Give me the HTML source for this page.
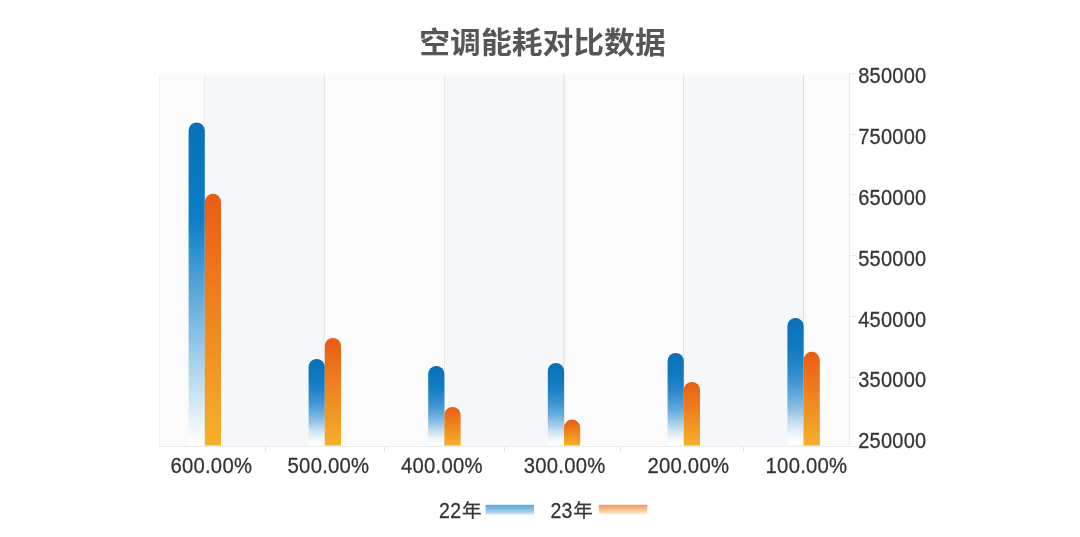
<!DOCTYPE html>
<html lang="zh-CN">
<head>
<meta charset="utf-8">
<title>空调能耗对比数据</title>
<style>
html,body{margin:0;padding:0;background:#fff;}
body{width:1080px;height:537px;overflow:hidden;position:relative;font-family:"Liberation Sans","Noto Sans CJK SC",sans-serif;color:#333;}
#chart{position:absolute;left:0;top:0;width:1080px;height:537px;}
.t{position:absolute;white-space:nowrap;line-height:1;}
.title{left:0;width:1085px;top:28.1px;text-align:center;font-size:30.8px;transform:scaleY(0.95);transform-origin:50% 50%;font-weight:bold;color:#565656;letter-spacing:0px;}
.yl{left:858.2px;font-size:20px;height:20px;letter-spacing:0.25px;transform:scaleY(1.08);transform-origin:0 50%;-webkit-text-stroke:0.25px #333;}
.xl{font-size:20.3px;letter-spacing:0.25px;width:120px;text-align:center;top:455.4px;transform:scaleY(1.08);transform-origin:50% 50%;-webkit-text-stroke:0.25px #333;}
.lg{font-size:19.5px;top:500.2px;}
.lg span{display:inline-block;}
.lg .d{position:relative;top:1.7px;letter-spacing:0.3px;-webkit-text-stroke:0.25px #333;transform:scaleY(1.125);transform-origin:50% 86%;}
.lg .c{position:relative;top:0.7px;left:0.6px;-webkit-text-stroke:0.3px #333;transform:scaleY(0.955);transform-origin:50% 50%;}
</style>
</head>
<body>
<svg id="chart" width="1080" height="537" viewBox="0 0 1080 537">
<defs>
<linearGradient id="gb" x1="0" y1="0" x2="0" y2="1">
<stop offset="0" stop-color="#0a6fb9"/>
<stop offset="0.12" stop-color="#0976bf"/>
<stop offset="0.30" stop-color="#0c7ec8"/>
<stop offset="0.99" stop-color="#ffffff"/>
</linearGradient>
<linearGradient id="gb2" x1="0" y1="0" x2="0" y2="1">
<stop offset="0" stop-color="#0b70b8"/>
<stop offset="0.22" stop-color="#0e7abf"/>
<stop offset="0.35" stop-color="#1f83c8"/>
<stop offset="0.48" stop-color="#3d92d0"/>
<stop offset="0.60" stop-color="#5ea9da"/>
<stop offset="0.70" stop-color="#8abde3"/>
<stop offset="0.81" stop-color="#c2ddf0"/>
<stop offset="0.91" stop-color="#edf5fb"/>
<stop offset="0.97" stop-color="#ffffff"/>
</linearGradient>
<linearGradient id="go" x1="0" y1="0" x2="0" y2="1">
<stop offset="0" stop-color="#ea5c14"/>
<stop offset="1" stop-color="#f6b02a"/>
</linearGradient>
<linearGradient id="lb" x1="0" y1="0" x2="0" y2="1">
<stop offset="0" stop-color="#5c9fcd"/>
<stop offset="0.15" stop-color="#6cb1de"/>
<stop offset="0.55" stop-color="#8cc3e8"/>
<stop offset="0.85" stop-color="#c2daf0"/>
<stop offset="1" stop-color="#e6f0f9"/>
</linearGradient>
<linearGradient id="lo" x1="0" y1="0" x2="0" y2="1">
<stop offset="0" stop-color="#dc9a6c"/>
<stop offset="0.14" stop-color="#f4a070"/>
<stop offset="0.5" stop-color="#f8c090"/>
<stop offset="0.8" stop-color="#fcdcb8"/>
<stop offset="1" stop-color="#fff0e0"/>
</linearGradient>
<linearGradient id="tf" x1="0" y1="0" x2="0" y2="1">
<stop offset="0" stop-color="#ffffff" stop-opacity="0.85"/>
<stop offset="1" stop-color="#ffffff" stop-opacity="0"/>
</linearGradient>
</defs>
<rect x="159.0" y="73.0" width="45.5" height="374.0" fill="#fbfbfb"/>
<rect x="204.5" y="73.0" width="120.0" height="374.0" fill="#f6f7f9"/>
<rect x="324.5" y="73.0" width="120.0" height="374.0" fill="#fbfbfb"/>
<rect x="444.5" y="73.0" width="119.6" height="374.0" fill="#f6f7f9"/>
<rect x="564.1" y="73.0" width="119.4" height="374.0" fill="#fbfbfb"/>
<rect x="683.5" y="73.0" width="120.0" height="374.0" fill="#f6f7f9"/>
<rect x="803.5" y="73.0" width="46.5" height="374.0" fill="#fbfbfb"/>
<rect x="204.0" y="73.0" width="1" height="374.0" fill="#ebebeb"/>
<rect x="324.0" y="73.0" width="1" height="374.0" fill="#e6e6e6"/>
<rect x="444.0" y="73.0" width="1" height="374.0" fill="#e6e6e6"/>
<rect x="563.6" y="73.0" width="1" height="374.0" fill="#dadada"/>
<rect x="683.0" y="73.0" width="1" height="374.0" fill="#e2e2e2"/>
<rect x="803.0" y="73.0" width="1" height="374.0" fill="#dcdcdc"/>
<rect x="159.0" y="73.0" width="1" height="374.0" fill="#f0f0f0"/>
<rect x="849.0" y="73.0" width="1" height="374.0" fill="#ececec"/>
<rect x="159.0" y="446.0" width="697.0" height="1" fill="#ebebee"/>
<rect x="265" y="447.0" width="1" height="5" fill="#e4e4e4"/>
<rect x="384" y="447.0" width="1" height="5" fill="#e4e4e4"/>
<rect x="504" y="447.0" width="1" height="5" fill="#e4e4e4"/>
<rect x="620" y="447.0" width="1" height="5" fill="#e4e4e4"/>
<rect x="743" y="447.0" width="1" height="5" fill="#e4e4e4"/>
<rect x="849.0" y="73" width="7" height="1" fill="#ebebeb"/>
<rect x="849.0" y="134" width="7" height="1" fill="#ebebeb"/>
<rect x="849.0" y="194" width="7" height="1" fill="#ebebeb"/>
<rect x="849.0" y="255" width="7" height="1" fill="#ebebeb"/>
<rect x="849.0" y="316" width="7" height="1" fill="#ebebeb"/>
<rect x="849.0" y="377" width="7" height="1" fill="#ebebeb"/>
<rect x="159.0" y="73.0" width="690.0" height="4.5" fill="url(#tf)"/>
<path d="M188.6 445.6 V130.5 a8.1 8.1 0 0 1 16.2 0 V445.6 Z" fill="url(#gb)"/>
<path d="M204.8 445.6 V201.9 a8.1 8.1 0 0 1 16.2 0 V445.6 Z" fill="url(#go)"/>
<path d="M308.6 445.6 V367.1 a8.1 8.1 0 0 1 16.2 0 V445.6 Z" fill="url(#gb2)"/>
<path d="M324.8 445.6 V346.0 a8.1 8.1 0 0 1 16.2 0 V445.6 Z" fill="url(#go)"/>
<path d="M428.2 445.6 V374.0 a8.1 8.1 0 0 1 16.2 0 V445.6 Z" fill="url(#gb2)"/>
<path d="M444.4 445.6 V415.1 a8.1 8.1 0 0 1 16.2 0 V445.6 Z" fill="url(#go)"/>
<path d="M547.8 445.6 V371.0 a8.1 8.1 0 0 1 16.2 0 V445.6 Z" fill="url(#gb2)"/>
<path d="M564.0 445.6 V427.7 a8.1 8.1 0 0 1 16.2 0 V445.6 Z" fill="url(#go)"/>
<path d="M667.6 445.6 V361.1 a8.1 8.1 0 0 1 16.2 0 V445.6 Z" fill="url(#gb2)"/>
<path d="M683.8 445.6 V390.0 a8.1 8.1 0 0 1 16.2 0 V445.6 Z" fill="url(#go)"/>
<path d="M787.4 445.6 V326.0 a8.1 8.1 0 0 1 16.2 0 V445.6 Z" fill="url(#gb2)"/>
<path d="M803.6 445.6 V359.9 a8.1 8.1 0 0 1 16.2 0 V445.6 Z" fill="url(#go)"/>
<rect x="485.6" y="504.8" width="48.4" height="10" fill="url(#lb)"/>
<rect x="598.7" y="504.8" width="48.6" height="9.4" fill="url(#lo)"/>
</svg>
<div class="t title">空调能耗对比数据</div>
<div class="t yl" style="top:65.1px">850000</div>
<div class="t yl" style="top:125.9px">750000</div>
<div class="t yl" style="top:186.8px">650000</div>
<div class="t yl" style="top:247.6px">550000</div>
<div class="t yl" style="top:308.5px">450000</div>
<div class="t yl" style="top:369.4px">350000</div>
<div class="t yl" style="top:430.2px">250000</div>
<div class="t xl" style="left:151.3px">600.00%</div>
<div class="t xl" style="left:268.5px">500.00%</div>
<div class="t xl" style="left:381.9px">400.00%</div>
<div class="t xl" style="left:504.6px">300.00%</div>
<div class="t xl" style="left:628.3px">200.00%</div>
<div class="t xl" style="left:746.5px">100.00%</div>
<div class="t lg" style="left:439.0px"><span class="d">22</span><span class="c">年</span></div>
<div class="t lg" style="left:550.4px"><span class="d">23</span><span class="c">年</span></div>
</body>
</html>
